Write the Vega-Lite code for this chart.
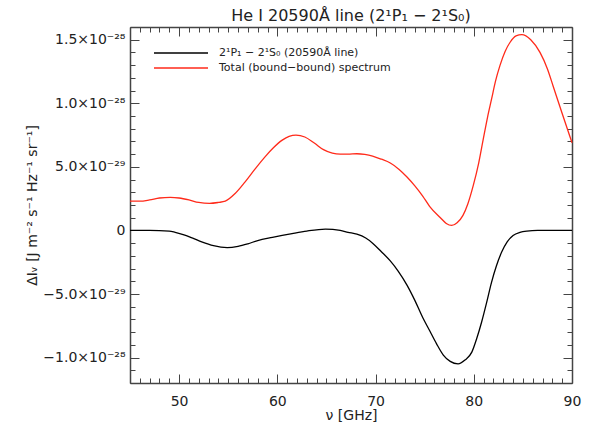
{
  "$schema": "https://vega.github.io/schema/vega-lite/v6.json",
  "width": 442,
  "height": 356,
  "autosize": {"type": "none"},
  "padding": {"left": 130, "top": 27, "right": 22, "bottom": 52},
  "background": "white",
  "title": {"text": "He I 20590Å line (2¹P₁ − 2¹S₀)", "font": "DejaVu Sans", "fontSize": 16, "fontWeight": "normal", "color": "#222", "offset": -4},
  "config": {
    "view": {"stroke": null},
    "font": "DejaVu Sans",
    "axis": {"grid": false, "domainColor": "#444", "tickColor": "#444", "labelColor": "#222", "titleColor": "#222", "labelFont": "DejaVu Sans", "titleFont": "DejaVu Sans", "labelFontSize": 14, "titleFontSize": 14, "titleFontWeight": "normal", "labelOverlap": false, "labelFlush": false, "domainWidth": 1.5, "tickWidth": 1}
  },
  "data": {"values": [
    {"series": "2¹P₁ − 2¹S₀ (20590Å line)", "nu": 45, "dI": 0},
    {"series": "2¹P₁ − 2¹S₀ (20590Å line)", "nu": 47, "dI": 0},
    {"series": "2¹P₁ − 2¹S₀ (20590Å line)", "nu": 49, "dI": -0.05e-29},
    {"series": "2¹P₁ − 2¹S₀ (20590Å line)", "nu": 49.6, "dI": -0.15e-29},
    {"series": "2¹P₁ − 2¹S₀ (20590Å line)", "nu": 50.5, "dI": -0.35e-29},
    {"series": "2¹P₁ − 2¹S₀ (20590Å line)", "nu": 51.5, "dI": -0.65e-29},
    {"series": "2¹P₁ − 2¹S₀ (20590Å line)", "nu": 52.3, "dI": -0.9e-29},
    {"series": "2¹P₁ − 2¹S₀ (20590Å line)", "nu": 53.5, "dI": -1.2e-29},
    {"series": "2¹P₁ − 2¹S₀ (20590Å line)", "nu": 54.9, "dI": -1.35e-29},
    {"series": "2¹P₁ − 2¹S₀ (20590Å line)", "nu": 56, "dI": -1.25e-29},
    {"series": "2¹P₁ − 2¹S₀ (20590Å line)", "nu": 57, "dI": -1.05e-29},
    {"series": "2¹P₁ − 2¹S₀ (20590Å line)", "nu": 58, "dI": -0.8e-29},
    {"series": "2¹P₁ − 2¹S₀ (20590Å line)", "nu": 59.5, "dI": -0.55e-29},
    {"series": "2¹P₁ − 2¹S₀ (20590Å line)", "nu": 61.5, "dI": -0.25e-29},
    {"series": "2¹P₁ − 2¹S₀ (20590Å line)", "nu": 63, "dI": -0.05e-29},
    {"series": "2¹P₁ − 2¹S₀ (20590Å line)", "nu": 64.9, "dI": 0.1e-29},
    {"series": "2¹P₁ − 2¹S₀ (20590Å line)", "nu": 66.4, "dI": 0.0},
    {"series": "2¹P₁ − 2¹S₀ (20590Å line)", "nu": 67.2, "dI": -0.15e-29},
    {"series": "2¹P₁ − 2¹S₀ (20590Å line)", "nu": 68.1, "dI": -0.3e-29},
    {"series": "2¹P₁ − 2¹S₀ (20590Å line)", "nu": 69, "dI": -0.6e-29},
    {"series": "2¹P₁ − 2¹S₀ (20590Å line)", "nu": 69.7, "dI": -1.0e-29},
    {"series": "2¹P₁ − 2¹S₀ (20590Å line)", "nu": 70.5, "dI": -1.6e-29},
    {"series": "2¹P₁ − 2¹S₀ (20590Å line)", "nu": 71.5, "dI": -2.4e-29},
    {"series": "2¹P₁ − 2¹S₀ (20590Å line)", "nu": 72.3, "dI": -3.2e-29},
    {"series": "2¹P₁ − 2¹S₀ (20590Å line)", "nu": 73.2, "dI": -4.3e-29},
    {"series": "2¹P₁ − 2¹S₀ (20590Å line)", "nu": 74, "dI": -5.5e-29},
    {"series": "2¹P₁ − 2¹S₀ (20590Å line)", "nu": 74.8, "dI": -6.85e-29},
    {"series": "2¹P₁ − 2¹S₀ (20590Å line)", "nu": 75.5, "dI": -7.87e-29},
    {"series": "2¹P₁ − 2¹S₀ (20590Å line)", "nu": 76.2, "dI": -8.9e-29},
    {"series": "2¹P₁ − 2¹S₀ (20590Å line)", "nu": 76.9, "dI": -9.8e-29},
    {"series": "2¹P₁ − 2¹S₀ (20590Å line)", "nu": 77.6, "dI": -10.3e-29},
    {"series": "2¹P₁ − 2¹S₀ (20590Å line)", "nu": 78.4, "dI": -10.5e-29},
    {"series": "2¹P₁ − 2¹S₀ (20590Å line)", "nu": 79.1, "dI": -10.2e-29},
    {"series": "2¹P₁ − 2¹S₀ (20590Å line)", "nu": 79.8, "dI": -9.57e-29},
    {"series": "2¹P₁ − 2¹S₀ (20590Å line)", "nu": 80.3, "dI": -8.5e-29},
    {"series": "2¹P₁ − 2¹S₀ (20590Å line)", "nu": 80.8, "dI": -7.2e-29},
    {"series": "2¹P₁ − 2¹S₀ (20590Å line)", "nu": 81.3, "dI": -5.7e-29},
    {"series": "2¹P₁ − 2¹S₀ (20590Å line)", "nu": 81.8, "dI": -4.1e-29},
    {"series": "2¹P₁ − 2¹S₀ (20590Å line)", "nu": 82.3, "dI": -2.8e-29},
    {"series": "2¹P₁ − 2¹S₀ (20590Å line)", "nu": 82.84, "dI": -1.7e-29},
    {"series": "2¹P₁ − 2¹S₀ (20590Å line)", "nu": 83.4, "dI": -0.9e-29},
    {"series": "2¹P₁ − 2¹S₀ (20590Å line)", "nu": 84, "dI": -0.4e-29},
    {"series": "2¹P₁ − 2¹S₀ (20590Å line)", "nu": 84.7, "dI": -0.15e-29},
    {"series": "2¹P₁ − 2¹S₀ (20590Å line)", "nu": 85.4, "dI": -0.05e-29},
    {"series": "2¹P₁ − 2¹S₀ (20590Å line)", "nu": 86.5, "dI": 0},
    {"series": "2¹P₁ − 2¹S₀ (20590Å line)", "nu": 90, "dI": 0},
    {"series": "Total (bound−bound) spectrum", "nu": 45, "dI": 2.3e-29},
    {"series": "Total (bound−bound) spectrum", "nu": 46, "dI": 2.3e-29},
    {"series": "Total (bound−bound) spectrum", "nu": 47, "dI": 2.4e-29},
    {"series": "Total (bound−bound) spectrum", "nu": 48, "dI": 2.55e-29},
    {"series": "Total (bound−bound) spectrum", "nu": 49.1, "dI": 2.6e-29},
    {"series": "Total (bound−bound) spectrum", "nu": 50, "dI": 2.55e-29},
    {"series": "Total (bound−bound) spectrum", "nu": 51, "dI": 2.4e-29},
    {"series": "Total (bound−bound) spectrum", "nu": 52, "dI": 2.2e-29},
    {"series": "Total (bound−bound) spectrum", "nu": 53.1, "dI": 2.13e-29},
    {"series": "Total (bound−bound) spectrum", "nu": 54, "dI": 2.2e-29},
    {"series": "Total (bound−bound) spectrum", "nu": 54.7, "dI": 2.3e-29},
    {"series": "Total (bound−bound) spectrum", "nu": 55.7, "dI": 2.9e-29},
    {"series": "Total (bound−bound) spectrum", "nu": 56.7, "dI": 3.8e-29},
    {"series": "Total (bound−bound) spectrum", "nu": 57.7, "dI": 4.8e-29},
    {"series": "Total (bound−bound) spectrum", "nu": 58.7, "dI": 5.75e-29},
    {"series": "Total (bound−bound) spectrum", "nu": 59.6, "dI": 6.5e-29},
    {"series": "Total (bound−bound) spectrum", "nu": 60.5, "dI": 7.1e-29},
    {"series": "Total (bound−bound) spectrum", "nu": 61.2, "dI": 7.4e-29},
    {"series": "Total (bound−bound) spectrum", "nu": 61.9, "dI": 7.5e-29},
    {"series": "Total (bound−bound) spectrum", "nu": 62.8, "dI": 7.35e-29},
    {"series": "Total (bound−bound) spectrum", "nu": 63.8, "dI": 6.85e-29},
    {"series": "Total (bound−bound) spectrum", "nu": 64.7, "dI": 6.35e-29},
    {"series": "Total (bound−bound) spectrum", "nu": 65.6, "dI": 6.08e-29},
    {"series": "Total (bound−bound) spectrum", "nu": 66.4, "dI": 6.0e-29},
    {"series": "Total (bound−bound) spectrum", "nu": 67.2, "dI": 6.0e-29},
    {"series": "Total (bound−bound) spectrum", "nu": 68.1, "dI": 6.03e-29},
    {"series": "Total (bound−bound) spectrum", "nu": 68.9, "dI": 5.98e-29},
    {"series": "Total (bound−bound) spectrum", "nu": 69.7, "dI": 5.85e-29},
    {"series": "Total (bound−bound) spectrum", "nu": 70.6, "dI": 5.6e-29},
    {"series": "Total (bound−bound) spectrum", "nu": 71.5, "dI": 5.3e-29},
    {"series": "Total (bound−bound) spectrum", "nu": 72.4, "dI": 4.8e-29},
    {"series": "Total (bound−bound) spectrum", "nu": 73.2, "dI": 4.2e-29},
    {"series": "Total (bound−bound) spectrum", "nu": 74, "dI": 3.5e-29},
    {"series": "Total (bound−bound) spectrum", "nu": 74.8, "dI": 2.7e-29},
    {"series": "Total (bound−bound) spectrum", "nu": 75.5, "dI": 1.9e-29},
    {"series": "Total (bound−bound) spectrum", "nu": 76.6, "dI": 1.0e-29},
    {"series": "Total (bound−bound) spectrum", "nu": 77.2, "dI": 0.55e-29},
    {"series": "Total (bound−bound) spectrum", "nu": 77.75, "dI": 0.39e-29},
    {"series": "Total (bound−bound) spectrum", "nu": 78.3, "dI": 0.6e-29},
    {"series": "Total (bound−bound) spectrum", "nu": 78.9, "dI": 1.18e-29},
    {"series": "Total (bound−bound) spectrum", "nu": 79.4, "dI": 2.1e-29},
    {"series": "Total (bound−bound) spectrum", "nu": 79.95, "dI": 3.54e-29},
    {"series": "Total (bound−bound) spectrum", "nu": 80.5, "dI": 5.3e-29},
    {"series": "Total (bound−bound) spectrum", "nu": 80.97, "dI": 7.2e-29},
    {"series": "Total (bound−bound) spectrum", "nu": 81.4, "dI": 8.9e-29},
    {"series": "Total (bound−bound) spectrum", "nu": 81.82, "dI": 10.36e-29},
    {"series": "Total (bound−bound) spectrum", "nu": 82.2, "dI": 11.7e-29},
    {"series": "Total (bound−bound) spectrum", "nu": 82.67, "dI": 12.98e-29},
    {"series": "Total (bound−bound) spectrum", "nu": 83.2, "dI": 14.1e-29},
    {"series": "Total (bound−bound) spectrum", "nu": 83.7, "dI": 14.8e-29},
    {"series": "Total (bound−bound) spectrum", "nu": 84.3, "dI": 15.3e-29},
    {"series": "Total (bound−bound) spectrum", "nu": 84.9, "dI": 15.4e-29},
    {"series": "Total (bound−bound) spectrum", "nu": 85.8, "dI": 15.0e-29},
    {"series": "Total (bound−bound) spectrum", "nu": 86.74, "dI": 14.0e-29},
    {"series": "Total (bound−bound) spectrum", "nu": 87.5, "dI": 12.7e-29},
    {"series": "Total (bound−bound) spectrum", "nu": 88.1, "dI": 11.3e-29},
    {"series": "Total (bound−bound) spectrum", "nu": 89, "dI": 9.2e-29},
    {"series": "Total (bound−bound) spectrum", "nu": 90, "dI": 6.9e-29}
  ]},
  "resolve": {"axis": {"x": "independent", "y": "independent"}},
  "layer": [
    {
      "mark": {"type": "line", "interpolate": "monotone", "strokeWidth": 1.3},
      "encoding": {
        "x": {"field": "nu", "type": "quantitative", "scale": {"domain": [45, 90], "nice": false, "zero": false},
          "axis": {"orient": "bottom", "title": "ν [GHz]", "titlePadding": -4,
            "values": [45,46,47,48,49,50,51,52,53,54,55,56,57,58,59,60,61,62,63,64,65,66,67,68,69,70,71,72,73,74,75,76,77,78,79,80,81,82,83,84,85,86,87,88,89,90],
            "labelExpr": "datum.value % 10 === 0 ? datum.value : ''",
            "tickSize": {"condition": {"test": "datum.value % 10 === 0", "value": -9}, "value": -5},
            "labelPadding": 20}},
        "y": {"field": "dI", "type": "quantitative", "scale": {"domain": [-1.2e-28, 1.6e-28], "nice": false, "zero": false},
          "axis": {"orient": "left", "title": "ΔIᵥ [J m⁻² s⁻¹ Hz⁻¹ sr⁻¹]", "titlePadding": 3,
            "values": [-12e-29,-11e-29,-10e-29,-9e-29,-8e-29,-7e-29,-6e-29,-5e-29,-4e-29,-3e-29,-2e-29,-1e-29,0,1e-29,2e-29,3e-29,4e-29,5e-29,6e-29,7e-29,8e-29,9e-29,10e-29,11e-29,12e-29,13e-29,14e-29,15e-29,16e-29],
            "labelExpr": "round(datum.value*1e29) == 15 ? '1.5×10⁻²⁸' : round(datum.value*1e29) == 10 ? '1.0×10⁻²⁸' : round(datum.value*1e29) == 5 ? '5.0×10⁻²⁹' : round(datum.value*1e29) == 0 ? '0' : round(datum.value*1e29) == -5 ? '−5.0×10⁻²⁹' : round(datum.value*1e29) == -10 ? '−1.0×10⁻²⁸' : ''",
            "tickSize": {"condition": {"test": "round(datum.value*1e29) % 5 === 0", "value": -9}, "value": -5},
            "labelPadding": 14}},
        "color": {"field": "series", "type": "nominal",
          "scale": {"domain": ["2¹P₁ − 2¹S₀ (20590Å line)", "Total (bound−bound) spectrum"], "range": ["black", "#ff2a1a"]},
          "legend": {"orient": "none", "legendX": 41, "legendY": 16, "title": null, "symbolType": "M-3,0H3", "symbolSize": 324, "symbolStrokeWidth": 1.3, "labelFontSize": 11, "labelFont": "DejaVu Sans", "labelColor": "#222", "labelOffset": 28, "labelLimit": 400, "rowPadding": 0}}
      }
    },
    {
      "mark": {"type": "line", "strokeOpacity": 0},
      "encoding": {
        "x": {"field": "nu", "type": "quantitative",
          "axis": {"orient": "top", "title": null, "labels": false,
            "values": [45,46,47,48,49,50,51,52,53,54,55,56,57,58,59,60,61,62,63,64,65,66,67,68,69,70,71,72,73,74,75,76,77,78,79,80,81,82,83,84,85,86,87,88,89,90],
            "tickSize": {"condition": {"test": "datum.value % 10 === 0", "value": -9}, "value": -5}}},
        "y": {"field": "dI", "type": "quantitative",
          "axis": {"orient": "right", "title": null, "labels": false,
            "values": [-12e-29,-11e-29,-10e-29,-9e-29,-8e-29,-7e-29,-6e-29,-5e-29,-4e-29,-3e-29,-2e-29,-1e-29,0,1e-29,2e-29,3e-29,4e-29,5e-29,6e-29,7e-29,8e-29,9e-29,10e-29,11e-29,12e-29,13e-29,14e-29,15e-29,16e-29],
            "tickSize": {"condition": {"test": "round(datum.value*1e29) % 5 === 0", "value": -9}, "value": -5}}},
        "detail": {"field": "series", "type": "nominal"}
      }
    }
  ]
}
